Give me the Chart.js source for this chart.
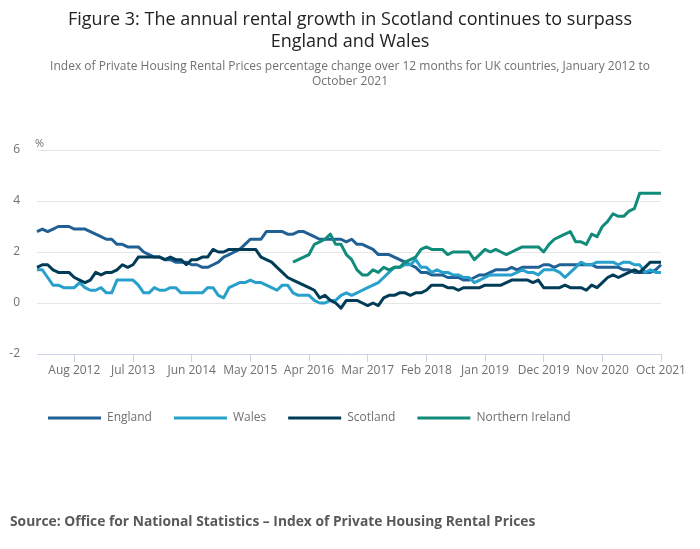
<!DOCTYPE html>
<html>
<head>
<meta charset="utf-8">
<script src="https://cdn.jsdelivr.net/npm/chart.js@4.4.0/dist/chart.umd.min.js"></script>
<style>
html,body{margin:0;padding:0;background:#fff;}
body{width:700px;height:549px;position:relative;overflow:hidden;font-family:"Open Sans",sans-serif;}
#wrap{position:absolute;left:0;top:0;width:700px;height:549px;}
#title{position:absolute;left:0;top:7px;width:700px;text-align:center;font-size:18px;line-height:22px;color:#222;}
#subtitle{position:absolute;left:20px;top:58px;width:660px;text-align:center;font-size:12px;line-height:15px;color:#707070;}
#unit{position:absolute;left:35px;top:136px;font-size:11px;line-height:14px;color:#707070;}
#source{position:absolute;left:10px;top:511px;font-size:13.8px;line-height:20px;font-weight:bold;color:#595959;}
</style>
</head>
<body>
<div id="wrap"><canvas id="c" width="700" height="549"></canvas></div>
<div id="title">Figure 3: The annual rental growth in Scotland continues to surpass<br>England and Wales</div>
<div id="subtitle">Index of Private Housing Rental Prices percentage change over 12 months for UK countries, January 2012 to<br>October 2021</div>
<div id="unit">%</div>
<div id="source">Source: Office for National Statistics – Index of Private Housing Rental Prices</div>
<script>
// Categories: monthly, January 2012 to October 2021
const monthNames = ['Jan','Feb','Mar','Apr','May','Jun','Jul','Aug','Sep','Oct','Nov','Dec'];
const months = [];
for (let y = 2012; y <= 2021; y++) {
  for (let m = 0; m < 12; m++) {
    if (y === 2021 && m > 9) break;
    months.push(monthNames[m] + ' ' + y);
  }
}
const tickLabels = ['Aug 2012','Jul 2013','Jun 2014','May 2015','Apr 2016','Mar 2017','Feb 2018','Jan 2019','Dec 2019','Nov 2020','Oct 2021'];
const seriesNames = ['England','Wales','Scotland','Northern Ireland'];

const england = [
  2.8,2.9,2.8,2.9,3.0,3.0,3.0,2.9,2.9,2.9,
  2.8,2.7,2.6,2.5,2.5,2.3,2.3,2.2,2.2,2.2,
  2.0,1.9,1.8,1.8,1.7,1.7,1.6,1.6,1.6,1.5,
  1.5,1.4,1.4,1.5,1.6,1.8,1.9,2.0,2.1,2.3,
  2.5,2.5,2.5,2.8,2.8,2.8,2.8,2.7,2.7,2.8,
  2.8,2.7,2.6,2.5,2.5,2.5,2.5,2.5,2.4,2.5,
  2.3,2.3,2.2,2.1,1.9,1.9,1.9,1.8,1.7,1.6,
  1.5,1.4,1.2,1.2,1.1,1.1,1.1,1.0,1.0,1.0,
  0.9,0.9,1.0,1.1,1.1,1.2,1.3,1.3,1.3,1.4,
  1.3,1.4,1.4,1.4,1.4,1.5,1.5,1.4,1.5,1.5,
  1.5,1.5,1.5,1.5,1.5,1.4,1.4,1.4,1.4,1.4,
  1.3,1.3,1.2,1.2,1.2,1.2,1.3,1.5
];
const wales = [
  1.3,1.3,1.0,0.7,0.7,0.6,0.6,0.6,0.8,0.6,
  0.5,0.5,0.6,0.4,0.4,0.9,0.9,0.9,0.9,0.7,
  0.4,0.4,0.6,0.5,0.5,0.6,0.6,0.4,0.4,0.4,
  0.4,0.4,0.6,0.6,0.3,0.2,0.6,0.7,0.8,0.8,
  0.9,0.8,0.8,0.7,0.6,0.5,0.7,0.7,0.4,0.3,
  0.3,0.3,0.1,0.0,0.0,0.1,0.1,0.3,0.4,0.3,
  0.4,0.5,0.6,0.7,0.8,1.0,1.2,1.4,1.4,1.5,
  1.5,1.7,1.4,1.4,1.2,1.3,1.2,1.2,1.1,1.1,
  1.0,1.0,0.8,0.9,1.0,1.1,1.1,1.1,1.1,1.1,
  1.2,1.3,1.2,1.2,1.1,1.3,1.3,1.3,1.2,1.0,
  1.2,1.4,1.6,1.5,1.5,1.6,1.6,1.6,1.6,1.5,
  1.6,1.6,1.5,1.5,1.2,1.3,1.2,1.2
];
const scotland = [
  1.4,1.5,1.5,1.3,1.2,1.2,1.2,1.0,0.9,0.8,
  0.9,1.2,1.1,1.2,1.2,1.3,1.5,1.4,1.5,1.8,
  1.8,1.8,1.8,1.8,1.7,1.8,1.7,1.7,1.5,1.7,
  1.7,1.8,1.8,2.1,2.0,2.0,2.1,2.1,2.1,2.1,
  2.1,2.1,1.8,1.7,1.6,1.4,1.2,1.0,0.9,0.8,
  0.7,0.6,0.5,0.2,0.3,0.1,0.0,-0.2,0.1,0.1,
  0.1,0.0,-0.1,0.0,-0.1,0.2,0.3,0.3,0.4,0.4,
  0.3,0.4,0.4,0.5,0.7,0.7,0.7,0.6,0.6,0.5,
  0.6,0.6,0.6,0.6,0.7,0.7,0.7,0.7,0.8,0.9,
  0.9,0.9,0.9,0.8,0.9,0.6,0.6,0.6,0.6,0.7,
  0.6,0.6,0.6,0.5,0.7,0.6,0.8,1.0,1.1,1.0,
  1.1,1.2,1.3,1.2,1.4,1.6,1.6,1.6
];
const northernIreland = [
  null,null,null,null,null,null,null,null,null,null,
  null,null,null,null,null,null,null,null,null,null,
  null,null,null,null,null,null,null,null,null,null,
  null,null,null,null,null,null,null,null,null,null,
  null,null,null,null,null,null,null,null,1.6,1.7,
  1.8,1.9,2.3,2.4,2.5,2.7,2.3,2.3,1.9,1.7,
  1.3,1.1,1.1,1.3,1.2,1.4,1.3,1.4,1.4,1.6,
  1.7,1.8,2.1,2.2,2.1,2.1,2.1,1.9,2.0,2.0,
  2.0,2.0,1.7,1.9,2.1,2.0,2.1,2.0,1.9,2.0,
  2.1,2.2,2.2,2.2,2.2,2.0,2.3,2.5,2.6,2.7,
  2.8,2.4,2.4,2.3,2.7,2.6,3.0,3.2,3.5,3.4,
  3.4,3.6,3.7,4.3,4.3,4.3,4.3,4.3
];
const colors = ['#206095','#27a0cc','#003c57','#118c7b'];

const font = {family:'"Open Sans", sans-serif', size:12};
const series = [england, wales, scotland, northernIreland];
const datasets = series.map((d, k) => ({
  label: seriesNames[k],
  data: d,
  borderColor: colors[k],
  backgroundColor: colors[k],
  borderWidth: 3,
  pointRadius: 0,
  pointHoverRadius: 0,
  tension: 0,
  fill: false,
  spanGaps: false,
  borderJoinStyle: 'round',
  order: 4 - k
}));

// shift the legend row so it starts where the reference's does
const legendShift = {
  id: 'legendShift',
  afterLayout(chart) {
    if (chart.legend) { chart.legend.left += 26; chart.legend.right += 26; }
  }
};

new Chart(document.getElementById('c'), {
  type: 'line',
  data: {labels: months, datasets: datasets},
  plugins: [legendShift],
  options: {
    responsive: false,
    animation: false,
    events: [],
    layout: {padding: {top: 150, left: 0, right: 39, bottom: 115}},
    plugins: {
      tooltip: {enabled: false},
      legend: {
        position: 'bottom',
        align: 'start',
        labels: {
          boxWidth: 53,
          boxHeight: 3,
          padding: 22,
          color: '#707070',
          font: font,
          sort: (a, b) => a.datasetIndex - b.datasetIndex,
          generateLabels: (chart) => Chart.defaults.plugins.legend.labels.generateLabels(chart).map(it => {
            it.fillStyle = it.strokeStyle;
            it.lineWidth = 0;
            return it;
          })
        }
      }
    },
    scales: {
      x: {
        type: 'category',
        offset: false,
        grid: {drawOnChartArea: false, drawTicks: true, tickLength: 8, color: '#ccd6eb'},
        border: {display: true, color: '#ccd6eb', width: 1},
        ticks: {
          autoSkip: false, maxRotation: 0, minRotation: 0, padding: 1,
          color: '#707070', font: font,
          callback: function(v, i) { return tickLabels.includes(months[i]) ? months[i] : null; }
        },
        afterFit: (s) => { s.paddingLeft = 0; s.paddingRight = 0; s.height = 36; }
      },
      y: {
        min: -2, max: 6,
        ticks: {stepSize: 2, padding: 17, color: '#707070', font: font},
        grid: {drawTicks: false, color: (c) => c.tick && c.tick.value === -2 ? 'rgba(0,0,0,0)' : '#e6e6e6'},
        border: {display: false},
        afterFit: (s) => { s.width = 37; s.paddingTop = 0; s.paddingBottom = 0; }
      }
    }
  }
});
</script>
</body>
</html>
